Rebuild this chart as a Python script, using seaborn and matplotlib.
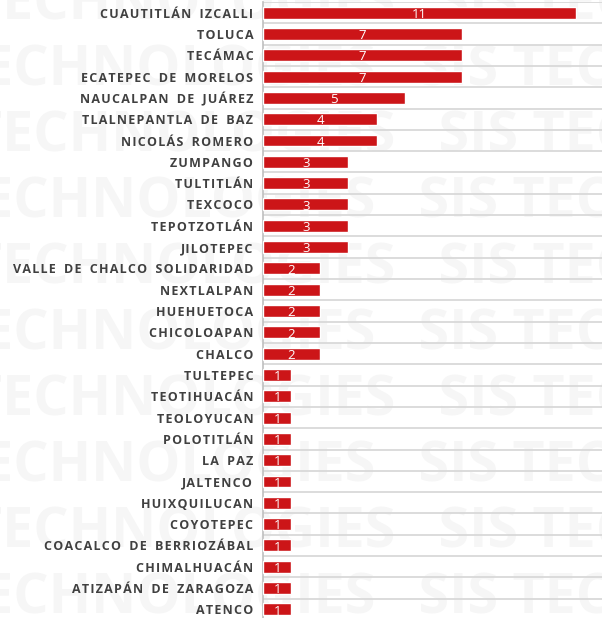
import matplotlib
matplotlib.use("Agg")
import matplotlib.pyplot as plt
import seaborn as sns
import numpy as np
import pandas as pd

# --- data ---
municipios = [
    "CUAUTITLÁN IZCALLI", "TOLUCA", "TECÁMAC", "ECATEPEC DE MORELOS",
    "NAUCALPAN DE JUÁREZ", "TLALNEPANTLA DE BAZ", "NICOLÁS ROMERO",
    "ZUMPANGO", "TULTITLÁN", "TEXCOCO", "TEPOTZOTLÁN", "JILOTEPEC",
    "VALLE DE CHALCO SOLIDARIDAD", "NEXTLALPAN", "HUEHUETOCA",
    "CHICOLOAPAN", "CHALCO", "TULTEPEC", "TEOTIHUACÁN", "TEOLOYUCAN",
    "POLOTITLÁN", "LA PAZ", "JALTENCO", "HUIXQUILUCAN", "COYOTEPEC",
    "COACALCO DE BERRIOZÁBAL", "CHIMALHUACÁN", "ATIZAPÁN DE ZARAGOZA",
    "ATENCO",
]
casos = [11, 7, 7, 7, 5, 4, 4, 3, 3, 3, 3, 3, 2, 2, 2, 2, 2,
         1, 1, 1, 1, 1, 1, 1, 1, 1, 1, 1, 1]

df = pd.DataFrame({"municipio": municipios, "casos": casos})

BAR_RED = "#CC1518"
GRID = "#D9D9D9"


def spaced(s):
    # simula el espaciado entre letras del original
    return "\u200a".join(s).replace("\u200a \u200a", "\u2009 \u2009")


sns.set_theme(style="white")
plt.rcParams["font.family"] = ["Open Sans", "DejaVu Sans"]

fig = plt.figure(figsize=(6.02, 6.18), dpi=100)

# marca de agua de fondo (en un eje aparte, detrás de todo)
bg = fig.add_axes([0, 0, 1, 1], zorder=0)
bg.set_axis_off()
bg.set_xlim(0, 602)
bg.set_ylim(618, 0)
for k in range(10):
    bg.text(-30 if k % 2 == 0 else -50, 5 + 66 * k,
            "TECHNOLOGIES   SIS TECHNOLOGIES",
            fontsize=40, fontweight="bold", color="#F6F6F6",
            va="center", ha="left", clip_on=True)

ax = fig.add_axes([263 / 602, -2 / 618, 1 - 263 / 602, 618 / 618], zorder=1)
ax.patch.set_alpha(0)

sns.barplot(data=df, x="casos", y="municipio", orient="h", color=BAR_RED,
            saturation=1, width=0.56, ax=ax, zorder=3)

for i, v in enumerate(casos):
    ax.text(v / 2, i + 0.08, str(v), ha="center", va="center",
            color="white", fontsize=9.5, zorder=4)

ax.set_xlim(0, 11.9)
ax.set_ylim(len(municipios) - 0.5, -0.5)
ax.set_xlabel("")
ax.set_ylabel("")
ax.set_xticks([])
ax.set_yticks(range(len(municipios)))
ax.set_yticklabels([spaced(m) for m in municipios], fontsize=9,
                   fontweight="bold", color="#404040")
ax.tick_params(axis="y", length=0, pad=7)

for b in np.arange(-0.5, len(municipios), 1.0):
    ax.axhline(b, color=GRID, lw=1.3, zorder=1)

for side in ["top", "right", "bottom"]:
    ax.spines[side].set_visible(False)
ax.spines["left"].set_color("#BFBFBF")
ax.spines["left"].set_linewidth(1.2)

fig.savefig("out.png", dpi=100)
